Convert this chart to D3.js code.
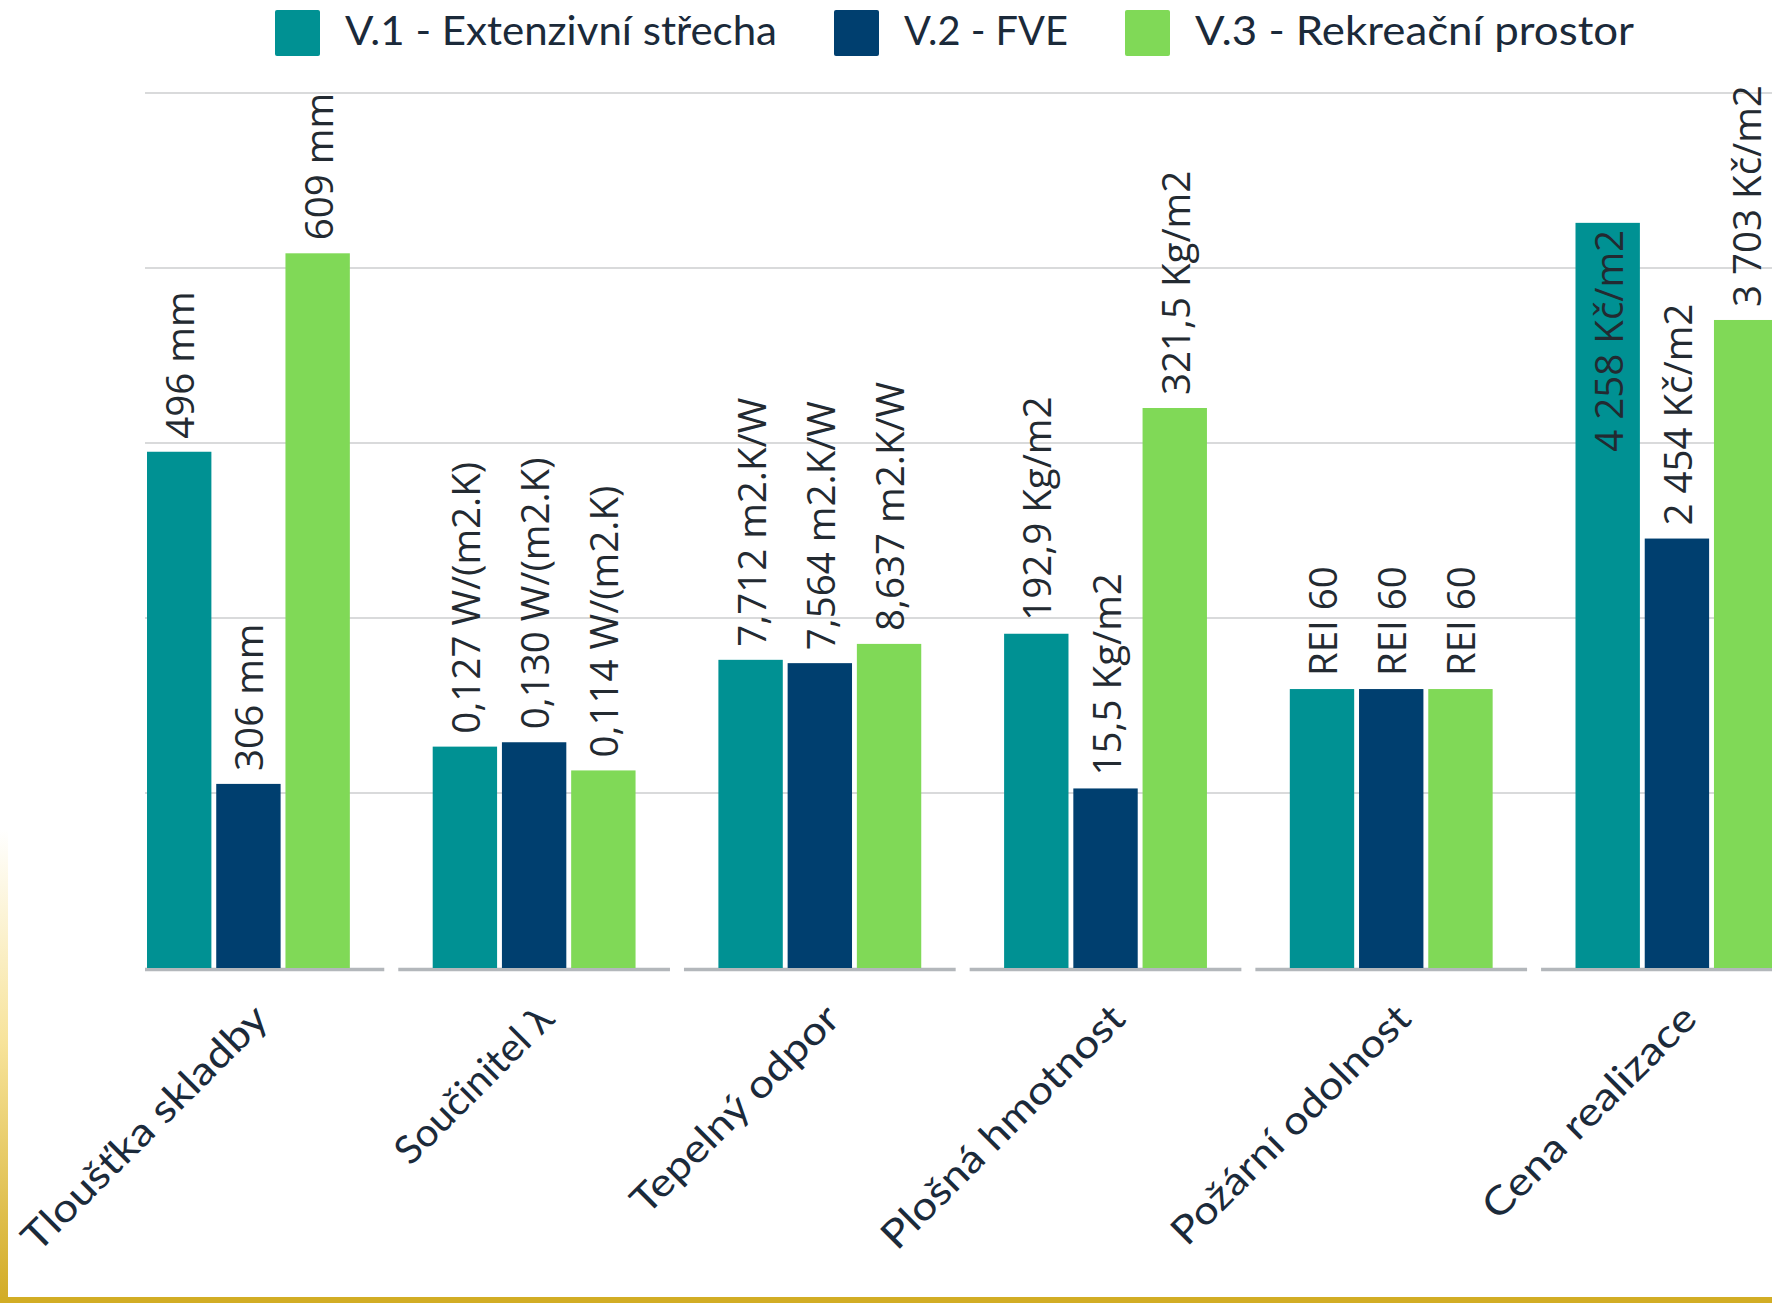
<!DOCTYPE html>
<html>
<head>
<meta charset="utf-8">
<script src="https://cdn.jsdelivr.net/npm/d3@7"></script>
<style>
  html, body { margin: 0; padding: 0; background: #ffffff; }
  svg { display: block; }
</style>
</head>
<body>
<svg id="chart" width="1772" height="1303"></svg>
<script>
// ---------- DATA ----------
const categories = ["Tloušťka skladby", "Součinitel λ", "Tepelný odpor", "Plošná hmotnost", "Požární odolnost", "Cena realizace"];
const seriesNames = ["V.1 - Extenzivní střecha", "V.2 - FVE", "V.3 - Rekreační prostor"];
// bar heights (relative units)
const v1Values = [2.95, 1.265, 1.761, 1.91, 1.594, 4.258];
const v2Values = [1.052, 1.29, 1.742, 1.026, 1.594, 2.454];
const v3Values = [4.084, 1.129, 1.852, 3.2, 1.594, 3.703];
// value labels
const v1Labels = ["496 mm", "0,127 W/(m2.K)", "7,712 m2.K/W", "192,9 Kg/m2", "REI 60", "4 258 Kč/m2"];
const v2Labels = ["306 mm", "0,130 W/(m2.K)", "7,564 m2.K/W", "15,5 Kg/m2", "REI 60", "2 454 Kč/m2"];
const v3Labels = ["609 mm", "0,114 W/(m2.K)", "8,637 m2.K/W", "321,5 Kg/m2", "REI 60", "3 703 Kč/m2"];
const yTicks = [0, 1, 2, 3, 4, 5];

// ---------- STYLE / LAYOUT ----------
const colors = ["#009193", "#003f6f", "#80d957"];
const W = 1772, H = 1303;
const plotLeft = 145, plotTop = 93, plotBottom = 968;
const legendTextLen = [432, 164, 439];
const catLabelLen = [329, 206, 276, 326, 320, 284];

const svg = d3.select("#chart");

// decorative gold frame (left gradient + bottom stripe)
const defs = svg.append("defs");
const lg = defs.append("linearGradient").attr("id", "goldL").attr("x1", 0).attr("y1", 0).attr("x2", 0).attr("y2", 1);
lg.append("stop").attr("offset", "0%").attr("stop-color", "#ffffff");
lg.append("stop").attr("offset", "45%").attr("stop-color", "#f7e39a");
lg.append("stop").attr("offset", "100%").attr("stop-color", "#d2ab25");
svg.append("rect").attr("x", 0).attr("y", 830).attr("width", 8).attr("height", H - 830).attr("fill", "url(#goldL)");
svg.append("rect").attr("x", 0).attr("y", 1297).attr("width", W).attr("height", 6).attr("fill", "#d2ad24");

// scales
const y = d3.scaleLinear().domain([0, 5]).range([plotBottom, plotTop]);
const x0 = d3.scaleBand().domain(categories)
  .range([147, 147 + 6 * 285.7]).paddingInner(0.29).paddingOuter(0.145).align(0);
const x1 = d3.scaleBand().domain(seriesNames).range([0, x0.bandwidth()]).paddingInner(0.07);

// gridlines
svg.append("g").selectAll("line").data(yTicks.filter(t => t > 0)).join("line")
  .attr("x1", plotLeft).attr("x2", W)
  .attr("y1", d => y(d)).attr("y2", d => y(d))
  .attr("stroke", "#d9dadb").attr("stroke-width", 2);

// baseline, segmented per category panel
const gapHalf = 7;
svg.append("g").selectAll("line").data(categories).join("line")
  .attr("x1", (d, i) => i === 0 ? plotLeft : x0(d) - (x0.step() - x0.bandwidth()) / 2 + gapHalf)
  .attr("x2", (d, i) => i === categories.length - 1 ? W : x0(d) + x0.bandwidth() + (x0.step() - x0.bandwidth()) / 2 - gapHalf)
  .attr("y1", y(0) + 1.5).attr("y2", y(0) + 1.5)
  .attr("stroke", "#b3b7bb").attr("stroke-width", 3.5);

// bar data
const allValues = [v1Values, v2Values, v3Values];
const allLabels = [v1Labels, v2Labels, v3Labels];
const barData = [];
categories.forEach((c, ci) => {
  seriesNames.forEach((s, si) => {
    barData.push({ cat: c, ser: s, si, value: allValues[si][ci], label: allLabels[si][ci] });
  });
});

const bars = svg.append("g");
bars.selectAll("rect").data(barData).join("rect")
  .attr("x", d => x0(d.cat) + x1(d.ser))
  .attr("y", d => y(d.value))
  .attr("width", x1.bandwidth())
  .attr("height", d => y(0) - y(d.value))
  .attr("fill", d => colors[d.si]);

// value labels (rotated)
const labels = svg.append("g")
  .attr("font-family", "'Open Sans', 'Noto Sans', sans-serif")
  .attr("font-size", 38.5)
  .attr("fill", "#232a31");
labels.selectAll("text").data(barData).join("text")
  .text(d => d.label)
  .each(function (d) {
    const len = this.getComputedTextLength();
    const cx = x0(d.cat) + x1(d.ser) + x1.bandwidth() / 2;
    const top = y(d.value);
    const inside = top - 13 - len < 0;
    d3.select(this)
      .attr("text-anchor", inside ? "end" : "start")
      .attr("dominant-baseline", "central")
      .attr("transform", `translate(${cx},${inside ? top + 7 : top - 13}) rotate(-90)`);
  });

// category axis labels
svg.append("g")
  .attr("font-family", "Lato, 'Open Sans', sans-serif")
  .attr("font-size", 39)
  .attr("fill", "#1b2a3a")
  .selectAll("text").data(categories).join("text")
  .attr("text-anchor", "end")
  .attr("textLength", (d, i) => catLabelLen[i]).attr("lengthAdjust", "spacingAndGlyphs")
  .attr("transform", d => `translate(${x0(d) + x0.bandwidth() / 2 + 22},${1021}) rotate(-45)`)
  .text(d => d);

// legend
const legend = svg.append("g")
  .attr("font-family", "Lato, 'Open Sans', sans-serif")
  .attr("font-size", 41)
  .attr("fill", "#1b2a3a");
let lx = 275;
seriesNames.forEach((s, i) => {
  legend.append("rect").attr("x", lx).attr("y", 10).attr("width", 45).attr("height", 46)
    .attr("rx", 2).attr("fill", colors[i]);
  legend.append("text").attr("x", lx + 70).attr("y", 45)
    .attr("textLength", legendTextLen[i]).attr("lengthAdjust", "spacingAndGlyphs")
    .text(s);
  lx += 70 + legendTextLen[i] + 57;
});
</script>
</body>
</html>
